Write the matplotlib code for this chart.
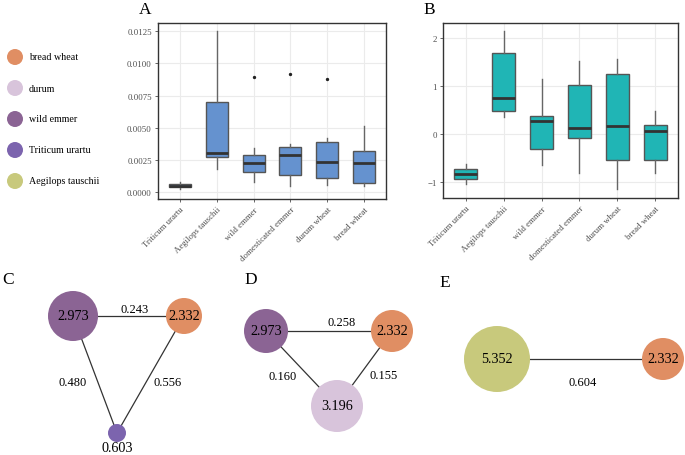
import matplotlib
matplotlib.use("Agg")
import matplotlib.pyplot as plt
from matplotlib.patches import Circle

plt.rcParams["font.family"] = ["Liberation Serif", "DejaVu Serif"]

# ---- data -------------------------------------------------------------
groups = ["Triticum urartu", "Aegilops tauschii", "wild emmer",
          "domesticated emmer", "durum wheat", "bread wheat"]

# panel A box stats: lower whisker, q1, median, q3, upper whisker
a_whislo = [0.00025, 0.00181, 0.00083, 0.00047, 0.00057, 0.00047]
a_q1 = [0.00040, 0.00277, 0.00158, 0.00137, 0.00109, 0.00075]
a_med = [0.00050, 0.00308, 0.00228, 0.00292, 0.00238, 0.00228]
a_q3 = [0.00068, 0.00699, 0.00290, 0.00349, 0.00390, 0.00324]
a_whishi = [0.00080, 0.01250, 0.00344, 0.00373, 0.00420, 0.00512]
a_fliers = [[], [], [0.00895], [0.00916], [0.00880], []]
a_ticks = [0.0, 0.0025, 0.005, 0.0075, 0.01, 0.0125]

# panel B box stats
b_whislo = [-1.03, 0.35, -0.65, -0.81, -1.15, -0.80]
b_q1 = [-0.94, 0.49, -0.31, -0.08, -0.53, -0.53]
b_med = [-0.84, 0.76, 0.28, 0.125, 0.17, 0.06]
b_q3 = [-0.73, 1.69, 0.37, 1.03, 1.24, 0.18]
b_whishi = [-0.62, 2.15, 1.15, 1.51, 1.57, 0.49]
b_ticks = [-1, 0, 1, 2]

legend_names = ["bread wheat", "durum", "wild emmer", "Triticum urartu",
                "Aegilops tauschii"]
legend_colors = ["#E08E63", "#D8C4DB", "#8B6494", "#7C64AE", "#C8C97C"]
color_of = dict(zip(legend_names, legend_colors))

# networks: node names, node values, edges (i, j, weight)
c_nodes = ["wild emmer", "bread wheat", "Triticum urartu"]
c_values = [2.973, 2.332, 0.603]
c_edges = [(0, 1, 0.243), (0, 2, 0.480), (1, 2, 0.556)]

d_nodes = ["wild emmer", "bread wheat", "durum"]
d_values = [2.973, 2.332, 3.196]
d_edges = [(0, 1, 0.258), (0, 2, 0.160), (1, 2, 0.155)]

e_nodes = ["Aegilops tauschii", "bread wheat"]
e_values = [5.352, 2.332]
e_edges = [(0, 1, 0.604)]

# ---- layout (pixels) --------------------------------------------------
W, H = 685, 456
fig = plt.figure(figsize=(W / 100, H / 100), dpi=100)


def px_axes(x0, y0, x1, y1):
    return fig.add_axes([x0 / W, 1 - y1 / H, (x1 - x0) / W, (y1 - y0) / H])


over = fig.add_axes([0, 0, 1, 1])
over.set_xlim(0, W)
over.set_ylim(H, 0)
over.axis("off")


def boxpanel(ax, whislo, q1, med, q3, whishi, fliers, fill, ticks, fmt, ylim):
    stats = []
    for i in range(len(groups)):
        stats.append(dict(whislo=whislo[i], q1=q1[i], med=med[i], q3=q3[i],
                          whishi=whishi[i], fliers=fliers[i] if fliers else []))
    ax.bxp(stats, positions=range(len(groups)), widths=0.6, patch_artist=True,
           showcaps=False,
           boxprops=dict(facecolor=fill, edgecolor="#555555", linewidth=1.0),
           medianprops=dict(color="#333333", linewidth=2.0),
           whiskerprops=dict(color="#666666", linewidth=1.0),
           flierprops=dict(marker="o", markersize=1.4, markerfacecolor="#222222",
                           markeredgecolor="#222222"))
    ax.set_xlim(-0.6, len(groups) - 0.4)
    ax.set_ylim(*ylim)
    ax.set_yticks(ticks)
    ax.set_yticklabels([fmt.format(t) for t in ticks])
    ax.set_xticks(range(len(groups)))
    ax.set_xticklabels(groups, rotation=45, ha="right", rotation_mode="anchor")
    ax.grid(True, color="#EBEBEB", linewidth=0.8)
    ax.set_axisbelow(True)
    ax.tick_params(labelsize=6.3, colors="#4D4D4D", length=2.5, width=0.6, pad=2)
    for s in ax.spines.values():
        s.set_color("#333333")
        s.set_linewidth(1.0)


axA = px_axes(158, 24, 386, 200)
boxpanel(axA, a_whislo, a_q1, a_med, a_q3, a_whishi, a_fliers, "#6592CF",
         a_ticks, "{:.4f}", (-0.00052, 0.01314))
axB = px_axes(443, 24, 678, 199)
boxpanel(axB, b_whislo, b_q1, b_med, b_q3, b_whishi, None, "#20B5B5",
         b_ticks, "{:d}", (-1.33, 2.31))
axB.set_yticklabels(["\u22121", "0", "1", "2"])

# panel letters
for letter, (x, y) in zip("ABCDE", [(145, 10), (429, 10), (8, 280),
                                     (251, 280), (445, 283)]):
    over.text(x, y, letter, fontsize=12.5, ha="center", va="center")

# legend
for k, (name, col) in enumerate(zip(legend_names, legend_colors)):
    y = 58 + k * 31
    over.add_patch(Circle((15, y), 8, color=col, ec="none"))
    over.text(29, y, name, fontsize=7.2, va="center", ha="left")


def network(names, values, edges, pos, radii, elabel_pos, value_below=None):
    for (i, j, w), (lx, ly) in zip(edges, elabel_pos):
        over.plot([pos[i][0], pos[j][0]], [pos[i][1], pos[j][1]],
                  color="#333333", linewidth=0.9, zorder=1)
        over.text(lx, ly, f"{w:.3f}", fontsize=9, ha="center", va="center")
    for k, name in enumerate(names):
        over.add_patch(Circle(pos[k], radii[k], color=color_of[name], ec="none",
                              zorder=2))
        if value_below == k:
            over.text(pos[k][0], pos[k][1] + radii[k] + 6, f"{values[k]:.3f}",
                      fontsize=10.2, ha="center", va="center", zorder=3)
        else:
            over.text(pos[k][0], pos[k][1], f"{values[k]:.3f}", fontsize=10.2,
                      ha="center", va="center", zorder=3)


network(c_nodes, c_values, c_edges,
        pos=[(73, 317), (184, 317), (117, 434)], radii=[25, 18, 9],
        elabel_pos=[(135, 310), (73, 383), (168, 383)], value_below=2)
network(d_nodes, d_values, d_edges,
        pos=[(266, 332), (392, 332), (337, 407)], radii=[22, 21, 26],
        elabel_pos=[(342, 323), (283, 377), (384, 376)])
network(e_nodes, e_values, e_edges,
        pos=[(497, 360), (663, 360)], radii=[33, 21],
        elabel_pos=[(583, 383)])

fig.savefig("out.png", dpi=100)
